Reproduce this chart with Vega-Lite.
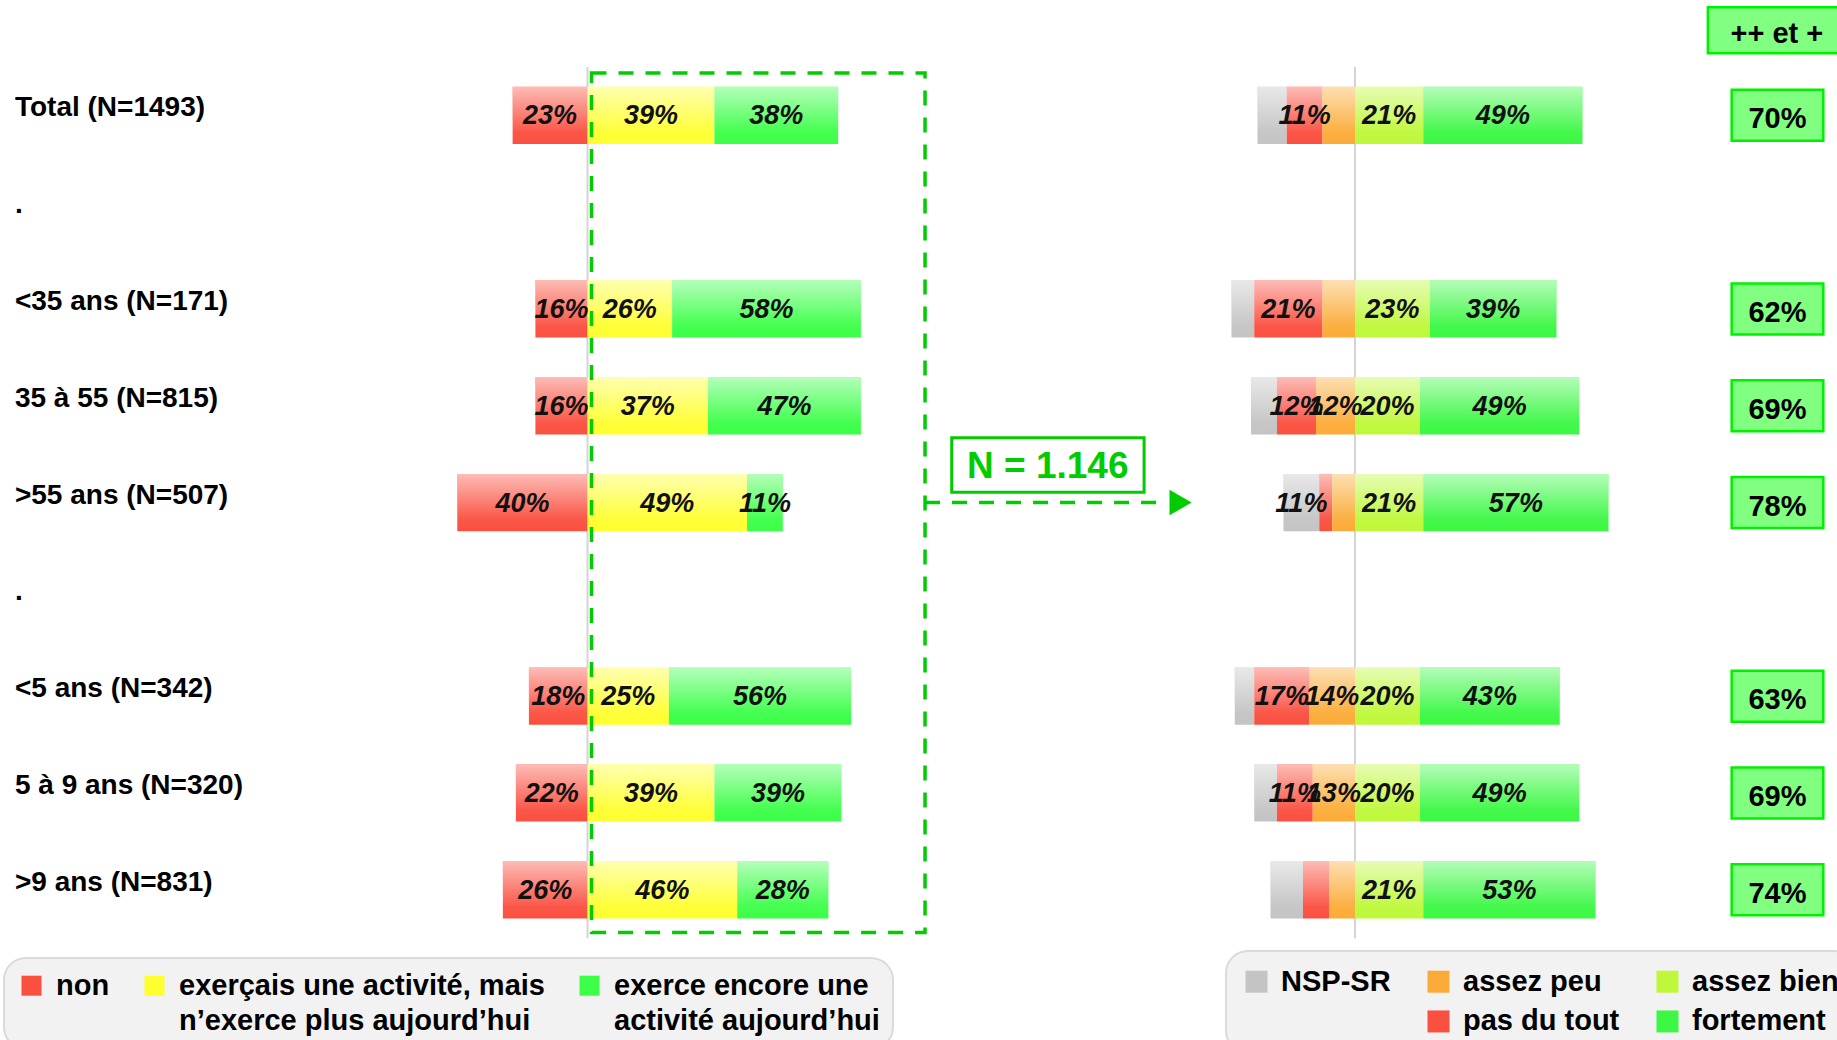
{
  "$schema": "https://vega.github.io/schema/vega-lite/v6.json",
  "width": 1837,
  "height": 871.2,
  "autosize": {"type": "none"},
  "padding": {"left": 0, "top": 66.95, "right": 0, "bottom": 101.85},
  "background": "white",
  "config": {"view": {"stroke": null}, "font": "Liberation Sans"},
  "datasets": {
    "lignes": [
      {"row": "Total (N=1493)"},
      {"row": "sep1"},
      {"row": "<35 ans (N=171)"},
      {"row": "35 à 55 (N=815)"},
      {"row": ">55 ans (N=507)"},
      {"row": "sep2"},
      {"row": "<5 ans (N=342)"},
      {"row": "5 à 9 ans (N=320)"},
      {"row": ">9 ans (N=831)"}
    ],
    "activite": [
      {"row": "Total (N=1493)", "cat": "non", "pct": 23},
      {"row": "Total (N=1493)", "cat": "exerçais une activité, mais\nn’exerce plus aujourd’hui", "pct": 39},
      {"row": "Total (N=1493)", "cat": "exerce encore une\nactivité aujourd’hui", "pct": 38},
      {"row": "<35 ans (N=171)", "cat": "non", "pct": 16},
      {"row": "<35 ans (N=171)", "cat": "exerçais une activité, mais\nn’exerce plus aujourd’hui", "pct": 26},
      {"row": "<35 ans (N=171)", "cat": "exerce encore une\nactivité aujourd’hui", "pct": 58},
      {"row": "35 à 55 (N=815)", "cat": "non", "pct": 16},
      {"row": "35 à 55 (N=815)", "cat": "exerçais une activité, mais\nn’exerce plus aujourd’hui", "pct": 37},
      {"row": "35 à 55 (N=815)", "cat": "exerce encore une\nactivité aujourd’hui", "pct": 47},
      {"row": ">55 ans (N=507)", "cat": "non", "pct": 40},
      {"row": ">55 ans (N=507)", "cat": "exerçais une activité, mais\nn’exerce plus aujourd’hui", "pct": 49},
      {"row": ">55 ans (N=507)", "cat": "exerce encore une\nactivité aujourd’hui", "pct": 11},
      {"row": "<5 ans (N=342)", "cat": "non", "pct": 18},
      {"row": "<5 ans (N=342)", "cat": "exerçais une activité, mais\nn’exerce plus aujourd’hui", "pct": 25},
      {"row": "<5 ans (N=342)", "cat": "exerce encore une\nactivité aujourd’hui", "pct": 56},
      {"row": "5 à 9 ans (N=320)", "cat": "non", "pct": 22},
      {"row": "5 à 9 ans (N=320)", "cat": "exerçais une activité, mais\nn’exerce plus aujourd’hui", "pct": 39},
      {"row": "5 à 9 ans (N=320)", "cat": "exerce encore une\nactivité aujourd’hui", "pct": 39},
      {"row": ">9 ans (N=831)", "cat": "non", "pct": 26},
      {"row": ">9 ans (N=831)", "cat": "exerçais une activité, mais\nn’exerce plus aujourd’hui", "pct": 46},
      {"row": ">9 ans (N=831)", "cat": "exerce encore une\nactivité aujourd’hui", "pct": 28}
    ],
    "adhesion": [
      {"row": "Total (N=1493)", "cat": "NSP-SR", "pct": 9},
      {"row": "Total (N=1493)", "cat": "pas du tout", "pct": 11},
      {"row": "Total (N=1493)", "cat": "assez peu", "pct": 10},
      {"row": "Total (N=1493)", "cat": "assez bien", "pct": 21},
      {"row": "Total (N=1493)", "cat": "fortement", "pct": 49},
      {"row": "<35 ans (N=171)", "cat": "NSP-SR", "pct": 7},
      {"row": "<35 ans (N=171)", "cat": "pas du tout", "pct": 21},
      {"row": "<35 ans (N=171)", "cat": "assez peu", "pct": 10},
      {"row": "<35 ans (N=171)", "cat": "assez bien", "pct": 23},
      {"row": "<35 ans (N=171)", "cat": "fortement", "pct": 39},
      {"row": "35 à 55 (N=815)", "cat": "NSP-SR", "pct": 8},
      {"row": "35 à 55 (N=815)", "cat": "pas du tout", "pct": 12},
      {"row": "35 à 55 (N=815)", "cat": "assez peu", "pct": 12},
      {"row": "35 à 55 (N=815)", "cat": "assez bien", "pct": 20},
      {"row": "35 à 55 (N=815)", "cat": "fortement", "pct": 49},
      {"row": ">55 ans (N=507)", "cat": "NSP-SR", "pct": 11},
      {"row": ">55 ans (N=507)", "cat": "pas du tout", "pct": 4},
      {"row": ">55 ans (N=507)", "cat": "assez peu", "pct": 7},
      {"row": ">55 ans (N=507)", "cat": "assez bien", "pct": 21},
      {"row": ">55 ans (N=507)", "cat": "fortement", "pct": 57},
      {"row": "<5 ans (N=342)", "cat": "NSP-SR", "pct": 6},
      {"row": "<5 ans (N=342)", "cat": "pas du tout", "pct": 17},
      {"row": "<5 ans (N=342)", "cat": "assez peu", "pct": 14},
      {"row": "<5 ans (N=342)", "cat": "assez bien", "pct": 20},
      {"row": "<5 ans (N=342)", "cat": "fortement", "pct": 43},
      {"row": "5 à 9 ans (N=320)", "cat": "NSP-SR", "pct": 7},
      {"row": "5 à 9 ans (N=320)", "cat": "pas du tout", "pct": 11},
      {"row": "5 à 9 ans (N=320)", "cat": "assez peu", "pct": 13},
      {"row": "5 à 9 ans (N=320)", "cat": "assez bien", "pct": 20},
      {"row": "5 à 9 ans (N=320)", "cat": "fortement", "pct": 49},
      {"row": ">9 ans (N=831)", "cat": "NSP-SR", "pct": 10},
      {"row": ">9 ans (N=831)", "cat": "pas du tout", "pct": 8},
      {"row": ">9 ans (N=831)", "cat": "assez peu", "pct": 8},
      {"row": ">9 ans (N=831)", "cat": "assez bien", "pct": 21},
      {"row": ">9 ans (N=831)", "cat": "fortement", "pct": 53}
    ],
    "positifs": [
      {"row": "Total (N=1493)", "plus": 70},
      {"row": "<35 ans (N=171)", "plus": 62},
      {"row": "35 à 55 (N=815)", "plus": 69},
      {"row": ">55 ans (N=507)", "plus": 78},
      {"row": "<5 ans (N=342)", "plus": 63},
      {"row": "5 à 9 ans (N=320)", "plus": 69},
      {"row": ">9 ans (N=831)", "plus": 74}
    ]
  },
  "resolve": {"scale": {"x": "independent", "y": "independent", "color": "independent"}},
  "layer": [
    {
      "layer": [
        {
          "data": {"values": [{}]},
          "mark": {"type": "rule", "color": "#D4D4D4", "strokeWidth": 2},
          "encoding": {
            "x": {"datum": 0, "type": "quantitative", "scale": {"domain": [-180.49, 383.87], "nice": false, "zero": false}, "axis": null}
          }
        },
        {
          "data": {"name": "activite"},
          "transform": [
            {"calculate": "datum.cat === 'non' ? -datum.pct : datum.pct", "as": "v"},
            {"stack": "v", "groupby": ["row"], "sort": [{"field": "cat", "order": "descending"}], "as": ["v0", "v1"]}
          ],
          "mark": {"type": "bar"},
          "encoding": {
            "y": {
              "field": "row", "type": "nominal",
              "scale": {"domain": ["Total (N=1493)", "sep1", "<35 ans (N=171)", "35 à 55 (N=815)", ">55 ans (N=507)", "sep2", "<5 ans (N=342)", "5 à 9 ans (N=320)", ">9 ans (N=831)"], "paddingInner": 0.408, "paddingOuter": 0.204},
              "axis": null
            },
            "x": {"field": "v0", "type": "quantitative", "scale": {"domain": [-180.49, 383.87], "nice": false, "zero": false}, "axis": null},
            "x2": {"field": "v1"},
            "color": {
              "field": "cat", "type": "nominal",
              "scale": {
                "domain": ["non", "exerçais une activité, mais\nn’exerce plus aujourd’hui", "exerce encore une\nactivité aujourd’hui"],
                "range": ["#FA5040", "#FFFF30", "#3CFF48"]
              },
              "legend": {
                "title": null, "orient": "none", "legendX": 4, "legendY": 891, "direction": "horizontal",
                "fillColor": "#F2F2F2", "strokeColor": "#DADADA", "cornerRadius": 22, "padding": 13,
                "symbolType": "square", "symbolSize": 400, "symbolStrokeWidth": 0, "symbolOpacity": 1,
                "labelFont": "Liberation Sans", "labelFontSize": 29, "labelFontWeight": "bold", "labelColor": "#000000",
                "labelLimit": 0, "labelOffset": 10, "columnPadding": 30,
                "labelExpr": "datum.label === 'non' ? ['non', ''] : split(datum.label, '\\n')",
                "encode": {
                  "legend": {"update": {"strokeWidth": {"value": 2}}},
                  "labels": {"update": {"lineHeight": {"value": 35}}}
                }
              }
            }
          }
        },
        {
          "data": {"name": "activite"},
          "transform": [
            {"calculate": "datum.cat === 'non' ? -datum.pct : datum.pct", "as": "v"},
            {"stack": "v", "groupby": ["row"], "sort": [{"field": "cat", "order": "descending"}], "as": ["v0", "v1"]}
          ],
          "mark": {
            "type": "bar",
            "color": {"gradient": "linear", "x1": 0, "y1": 0, "x2": 0, "y2": 1, "stops": [
              {"offset": 0, "color": "rgba(255,255,255,0.62)"},
              {"offset": 0.8, "color": "rgba(255,255,255,0.04)"},
              {"offset": 1, "color": "rgba(255,255,255,0)"}
            ]}
          },
          "encoding": {
            "y": {"field": "row", "type": "nominal", "axis": null},
            "x": {"field": "v0", "type": "quantitative", "scale": {"domain": [-180.49, 383.87], "nice": false, "zero": false}, "axis": null},
            "x2": {"field": "v1"}
          }
        },
        {
          "data": {"name": "activite"},
          "transform": [
            {"calculate": "datum.cat === 'non' ? -datum.pct : datum.pct", "as": "v"},
            {"stack": "v", "groupby": ["row"], "sort": [{"field": "cat", "order": "descending"}], "as": ["v0", "v1"]},
            {"calculate": "(datum.v0 + datum.v1) / 2", "as": "mid"},
            {"calculate": "datum.pct + '%'", "as": "lab"}
          ],
          "mark": {"type": "text", "font": "Liberation Sans", "fontSize": 27, "fontWeight": "bold", "fontStyle": "italic", "color": "#111111", "dy": 1},
          "encoding": {
            "y": {"field": "row", "type": "nominal", "axis": null},
            "x": {"field": "mid", "type": "quantitative", "scale": {"domain": [-180.49, 383.87], "nice": false, "zero": false}, "axis": null},
            "text": {"field": "lab"}
          }
        },
        {
          "data": {"name": "lignes"},
          "transform": [
            {"calculate": "indexof(datum.row, 'sep') === 0 ? '.' : datum.row", "as": "txt"}
          ],
          "mark": {"type": "text", "align": "left", "font": "Liberation Sans", "fontSize": 28, "fontWeight": "bold", "color": "#000000", "dy": -7},
          "encoding": {
            "y": {"field": "row", "type": "nominal", "axis": null},
            "x": {"datum": -175.9, "type": "quantitative", "scale": {"domain": [-180.49, 383.87], "nice": false, "zero": false}, "axis": null},
            "text": {"field": "txt"}
          }
        }
      ]
    },
    {
      "layer": [
        {
          "data": {"values": [{}]},
          "mark": {"type": "rule", "color": "#D4D4D4", "strokeWidth": 2},
          "encoding": {
            "x": {"datum": 0, "type": "quantitative", "scale": {"domain": [-416.92, 148.31], "nice": false, "zero": false}, "axis": null}
          }
        },
        {
          "data": {"name": "adhesion"},
          "transform": [
            {"calculate": "indexof(['assez peu', 'pas du tout', 'NSP-SR', 'assez bien', 'fortement'], datum.cat)", "as": "k"},
            {"calculate": "datum.k < 3 ? -datum.pct : datum.pct", "as": "v"},
            {"stack": "v", "groupby": ["row"], "sort": [{"field": "k", "order": "ascending"}], "as": ["v0", "v1"]}
          ],
          "mark": {"type": "bar"},
          "encoding": {
            "y": {
              "field": "row", "type": "nominal",
              "scale": {"domain": ["Total (N=1493)", "sep1", "<35 ans (N=171)", "35 à 55 (N=815)", ">55 ans (N=507)", "sep2", "<5 ans (N=342)", "5 à 9 ans (N=320)", ">9 ans (N=831)"], "paddingInner": 0.408, "paddingOuter": 0.204},
              "axis": null
            },
            "x": {"field": "v0", "type": "quantitative", "scale": {"domain": [-416.92, 148.31], "nice": false, "zero": false}, "axis": null},
            "x2": {"field": "v1"},
            "color": {
              "field": "cat", "type": "nominal",
              "scale": {
                "domain": ["NSP-SR", "assez peu", "assez bien", " ", "pas du tout", "fortement"],
                "range": ["#C4C4C4", "#FBAC38", "#BFF83A", "rgba(255,255,255,0)", "#FA5040", "#3CF844"]
              },
              "legend": {
                "title": null, "orient": "none", "legendX": 1226, "legendY": 884, "direction": "horizontal", "columns": 3,
                "fillColor": "#F2F2F2", "strokeColor": "#DADADA", "cornerRadius": 22, "padding": 16,
                "symbolType": "square", "symbolSize": 484, "symbolStrokeWidth": 0, "symbolOpacity": 1,
                "labelFont": "Liberation Sans", "labelFontSize": 29, "labelFontWeight": "bold", "labelColor": "#000000",
                "labelLimit": 0, "labelOffset": 10, "columnPadding": 33, "rowPadding": 10,
                "encode": {"legend": {"update": {"strokeWidth": {"value": 2}}}}
              }
            }
          }
        },
        {
          "data": {"name": "adhesion"},
          "transform": [
            {"calculate": "indexof(['assez peu', 'pas du tout', 'NSP-SR', 'assez bien', 'fortement'], datum.cat)", "as": "k"},
            {"calculate": "datum.k < 3 ? -datum.pct : datum.pct", "as": "v"},
            {"stack": "v", "groupby": ["row"], "sort": [{"field": "k", "order": "ascending"}], "as": ["v0", "v1"]}
          ],
          "mark": {
            "type": "bar",
            "color": {"gradient": "linear", "x1": 0, "y1": 0, "x2": 0, "y2": 1, "stops": [
              {"offset": 0, "color": "rgba(255,255,255,0.62)"},
              {"offset": 0.8, "color": "rgba(255,255,255,0.04)"},
              {"offset": 1, "color": "rgba(255,255,255,0)"}
            ]}
          },
          "encoding": {
            "y": {"field": "row", "type": "nominal", "axis": null},
            "x": {"field": "v0", "type": "quantitative", "scale": {"domain": [-416.92, 148.31], "nice": false, "zero": false}, "axis": null},
            "x2": {"field": "v1"}
          }
        },
        {
          "data": {"name": "adhesion"},
          "transform": [
            {"calculate": "indexof(['assez peu', 'pas du tout', 'NSP-SR', 'assez bien', 'fortement'], datum.cat)", "as": "k"},
            {"calculate": "datum.k < 3 ? -datum.pct : datum.pct", "as": "v"},
            {"stack": "v", "groupby": ["row"], "sort": [{"field": "k", "order": "ascending"}], "as": ["v0", "v1"]},
            {"calculate": "(datum.v0 + datum.v1) / 2", "as": "mid"},
            {"calculate": "datum.pct + '%'", "as": "lab"},
            {"filter": "datum.pct >= 11"}
          ],
          "mark": {"type": "text", "font": "Liberation Sans", "fontSize": 27, "fontWeight": "bold", "fontStyle": "italic", "color": "#111111", "dy": 1},
          "encoding": {
            "y": {"field": "row", "type": "nominal", "axis": null},
            "x": {"field": "mid", "type": "quantitative", "scale": {"domain": [-416.92, 148.31], "nice": false, "zero": false}, "axis": null},
            "text": {"field": "lab"}
          }
        },
        {
          "data": {"name": "positifs"},
          "mark": {"type": "bar", "height": {"band": 0.89}, "fill": "#80FF80", "stroke": "#00F000", "strokeWidth": 2.5},
          "encoding": {
            "y": {"field": "row", "type": "nominal", "axis": null},
            "x": {"datum": 115.9, "type": "quantitative", "scale": {"domain": [-416.92, 148.31], "nice": false, "zero": false}, "axis": null},
            "x2": {"datum": 144.1}
          }
        },
        {
          "data": {"name": "positifs"},
          "transform": [{"calculate": "datum.plus + '%'", "as": "lab"}],
          "mark": {"type": "text", "font": "Liberation Sans", "fontSize": 29, "fontWeight": "bold", "color": "#000000", "dy": 4},
          "encoding": {
            "y": {"field": "row", "type": "nominal", "axis": null},
            "x": {"datum": 130, "type": "quantitative", "scale": {"domain": [-416.92, 148.31], "nice": false, "zero": false}, "axis": null},
            "text": {"field": "lab"}
          }
        }
      ]
    },
    {
      "data": {"values": [{}]},
      "layer": [
        {
          "mark": {"type": "rect", "filled": false, "color": "#00CC00", "strokeWidth": 3.5, "strokeDash": [15, 12]},
          "encoding": {
            "x": {"datum": 1.23, "type": "quantitative", "scale": {"domain": [-180.49, 383.87], "nice": false, "zero": false}, "axis": null},
            "x2": {"datum": 103.7},
            "y": {"datum": -0.4375, "type": "quantitative", "scale": {"domain": [-0.5, 8.5], "reverse": true, "nice": false, "zero": false}, "axis": null},
            "y2": {"datum": 8.4416}
          }
        },
        {
          "mark": {"type": "rule", "color": "#00CC00", "strokeWidth": 3.5, "strokeDash": [15, 12]},
          "encoding": {
            "x": {"datum": 103.7, "type": "quantitative", "scale": {"domain": [-180.49, 383.87], "nice": false, "zero": false}, "axis": null},
            "x2": {"datum": 178.0},
            "y": {"datum": 4, "type": "quantitative", "scale": {"domain": [-0.5, 8.5], "reverse": true, "nice": false, "zero": false}, "axis": null}
          }
        },
        {
          "mark": {"type": "point", "shape": "triangle-right", "filled": true, "color": "#00CC00", "size": 650, "opacity": 1},
          "encoding": {
            "x": {"datum": 182.2, "type": "quantitative", "scale": {"domain": [-180.49, 383.87], "nice": false, "zero": false}, "axis": null},
            "y": {"datum": 4, "type": "quantitative", "scale": {"domain": [-0.5, 8.5], "reverse": true, "nice": false, "zero": false}, "axis": null}
          }
        },
        {
          "mark": {"type": "rect", "filled": false, "color": "#00CC00", "strokeWidth": 3},
          "encoding": {
            "x": {"datum": 111.9, "type": "quantitative", "scale": {"domain": [-180.49, 383.87], "nice": false, "zero": false}, "axis": null},
            "x2": {"datum": 171.0},
            "y": {"datum": 3.330, "type": "quantitative", "scale": {"domain": [-0.5, 8.5], "reverse": true, "nice": false, "zero": false}, "axis": null},
            "y2": {"datum": 3.894}
          }
        },
        {
          "mark": {"type": "text", "text": "N = 1.146", "font": "Liberation Sans", "fontSize": 37, "fontWeight": "bold", "color": "#00CC00"},
          "encoding": {
            "x": {"datum": 141.4, "type": "quantitative", "scale": {"domain": [-180.49, 383.87], "nice": false, "zero": false}, "axis": null},
            "y": {"datum": 3.635, "type": "quantitative", "scale": {"domain": [-0.5, 8.5], "reverse": true, "nice": false, "zero": false}, "axis": null}
          }
        },
        {
          "mark": {"type": "rect", "fill": "#80FF80", "stroke": "#00F000", "strokeWidth": 2.5},
          "encoding": {
            "x": {"datum": 344.2, "type": "quantitative", "scale": {"domain": [-180.49, 383.87], "nice": false, "zero": false}, "axis": null},
            "x2": {"datum": 388.2},
            "y": {"datum": -1.116, "type": "quantitative", "scale": {"domain": [-0.5, 8.5], "reverse": true, "nice": false, "zero": false}, "axis": null},
            "y2": {"datum": -0.641}
          }
        },
        {
          "mark": {"type": "text", "text": "++ et +", "font": "Liberation Sans", "fontSize": 29, "fontWeight": "bold", "color": "#000000"},
          "encoding": {
            "x": {"datum": 365.4, "type": "quantitative", "scale": {"domain": [-180.49, 383.87], "nice": false, "zero": false}, "axis": null},
            "y": {"datum": -0.84, "type": "quantitative", "scale": {"domain": [-0.5, 8.5], "reverse": true, "nice": false, "zero": false}, "axis": null}
          }
        }
      ]
    }
  ]
}
